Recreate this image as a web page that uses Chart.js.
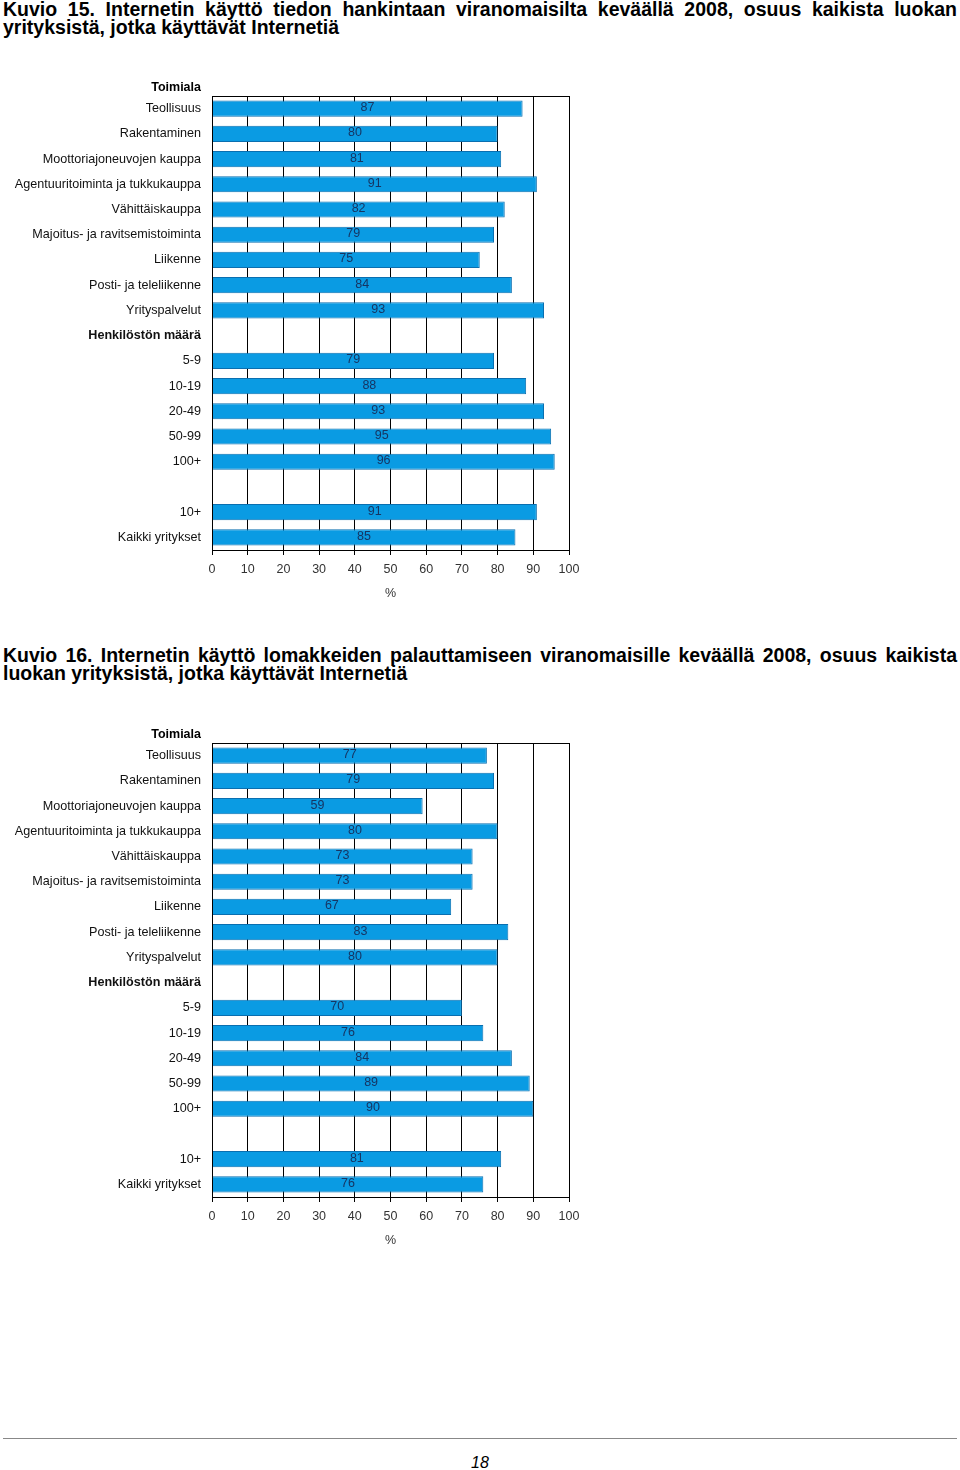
<!DOCTYPE html>
<html>
<head>
<meta charset="utf-8">
<script src="https://cdn.jsdelivr.net/npm/chart.js@4.4.0/dist/chart.umd.min.js"></script>
<style>
  body { margin: 0; background: #fff; }
  #page { position: relative; width: 960px; height: 1470px; font-family: "Liberation Sans", Arial, sans-serif; }
  .title { position: absolute; left: 3px; width: 954px; font-weight: bold; font-size: 19.5px; line-height: 18px; color: #000; }
  .title div { white-space: nowrap; }
  .title .j { text-align: justify; text-align-last: justify; }
  .chartbox { position: absolute; left: 0; width: 600px; height: 530px; }
  #rule { position: absolute; left: 3px; width: 954px; top: 1438px; border-top: 1px solid #888; }
  #pageno { position: absolute; left: 0; width: 960px; top: 1454px; text-align: center; font-style: italic; font-size: 16px; }
</style>
</head>
<body>
<div id="page">
  <div class="title" style="top:0px">
    <div class="j">Kuvio 15. Internetin käyttö tiedon hankintaan viranomaisilta keväällä 2008, osuus kaikista luokan</div>
    <div>yrityksistä, jotka käyttävät Internetiä</div>
  </div>
  <div class="chartbox" style="top:80px"><canvas id="chart15"></canvas></div>

  <div class="title" style="top:646px">
    <div class="j">Kuvio 16. Internetin käyttö lomakkeiden palauttamiseen viranomaisille keväällä 2008, osuus kaikista</div>
    <div>luokan yrityksistä, jotka käyttävät Internetiä</div>
  </div>
  <div class="chartbox" style="top:727px"><canvas id="chart16"></canvas></div>

  <div id="rule"></div>
  <div id="pageno">18</div>
</div>
<script>
const categories = [
  'Teollisuus', 'Rakentaminen', 'Moottoriajoneuvojen kauppa', 'Agentuuritoiminta ja tukkukauppa',
  'Vähittäiskauppa', 'Majoitus- ja ravitsemistoiminta', 'Liikenne', 'Posti- ja teleliikenne',
  'Yrityspalvelut', 'Henkilöstön määrä', '5-9', '10-19', '20-49', '50-99', '100+', '', '10+', 'Kaikki yritykset'
];
const headerLabels = ['Henkilöstön määrä'];
const topHeader = 'Toimiala';

// Kuvio 15: tiedon hankinta
const valuesInfo = [87, 80, 81, 91, 82, 79, 75, 84, 93, null, 79, 88, 93, 95, 96, null, 91, 85];
// Kuvio 16: lomakkeiden palauttaminen
const valuesForms = [77, 79, 59, 80, 73, 73, 67, 83, 80, null, 70, 76, 84, 89, 90, null, 81, 76];

const FONT = '"Liberation Sans", Arial, sans-serif';

// value labels in the middle of each bar, box around plot, header above labels
const extras = {
  id: 'extras',
  afterDatasetsDraw(chart) {
    const ctx = chart.ctx;
    const area = chart.chartArea;
    ctx.save();
    ctx.font = '12.5px ' + FONT;
    ctx.fillStyle = '#163563';
    ctx.textAlign = 'center';
    ctx.textBaseline = 'middle';
    chart.getDatasetMeta(0).data.forEach((bar, i) => {
      const v = chart.data.datasets[0].data[i];
      if (v == null) return;
      ctx.fillText(String(v), (bar.x + bar.base) / 2, bar.y - 1);
    });
    ctx.strokeStyle = '#000';
    ctx.lineWidth = 1;
    ctx.strokeRect(Math.round(area.left) + 0.5, Math.round(area.top) + 0.5,
      Math.round(area.right - area.left), Math.round(area.bottom - area.top));
    ctx.font = 'bold 12.5px ' + FONT;
    ctx.fillStyle = '#000';
    ctx.textAlign = 'right';
    ctx.fillText(topHeader, area.left - 11, area.top - 8);
    ctx.restore();
  }
};

function makeChart(id, values) {
  const ctx = document.getElementById(id).getContext('2d');
  return new Chart(ctx, {
    type: 'bar',
    data: {
      labels: categories,
      datasets: [{
        data: values,
        backgroundColor: '#0a9be3',
        borderColor: '#0a6fb0',
        borderWidth: 1,
        barPercentage: 0.64,
        categoryPercentage: 1
      }]
    },
    options: {
      indexAxis: 'y',
      responsive: true,
      maintainAspectRatio: false,
      animation: false,
      layout: { padding: { left: 0, top: 16, right: 31, bottom: 5 } },
      plugins: { legend: { display: false }, tooltip: { enabled: false } },
      scales: {
        x: {
          min: 0,
          max: 100,
          ticks: { stepSize: 10, color: '#333', font: { family: FONT, size: 12.5 }, padding: 7 },
          grid: { color: '#000', lineWidth: 1, tickLength: 5 },
          border: { display: true, color: '#000' },
          title: { display: true, text: '%', color: '#333', font: { family: FONT, size: 12.5 }, padding: { top: 3 } },
          afterFit(scale) { scale.height = 55; }
        },
        y: {
          ticks: {
            color: '#111',
            padding: 3,
            autoSkip: false,
            font: (c) => ({ family: FONT, size: 12.6, weight: headerLabels.includes(categories[c.index]) ? 'bold' : 'normal' })
          },
          grid: { display: false },
          border: { display: true, color: '#000' },
          afterFit(scale) { scale.width = 212; }
        }
      }
    },
    plugins: [extras]
  });
}

makeChart('chart15', valuesInfo);
makeChart('chart16', valuesForms);
</script>
</body>
</html>
